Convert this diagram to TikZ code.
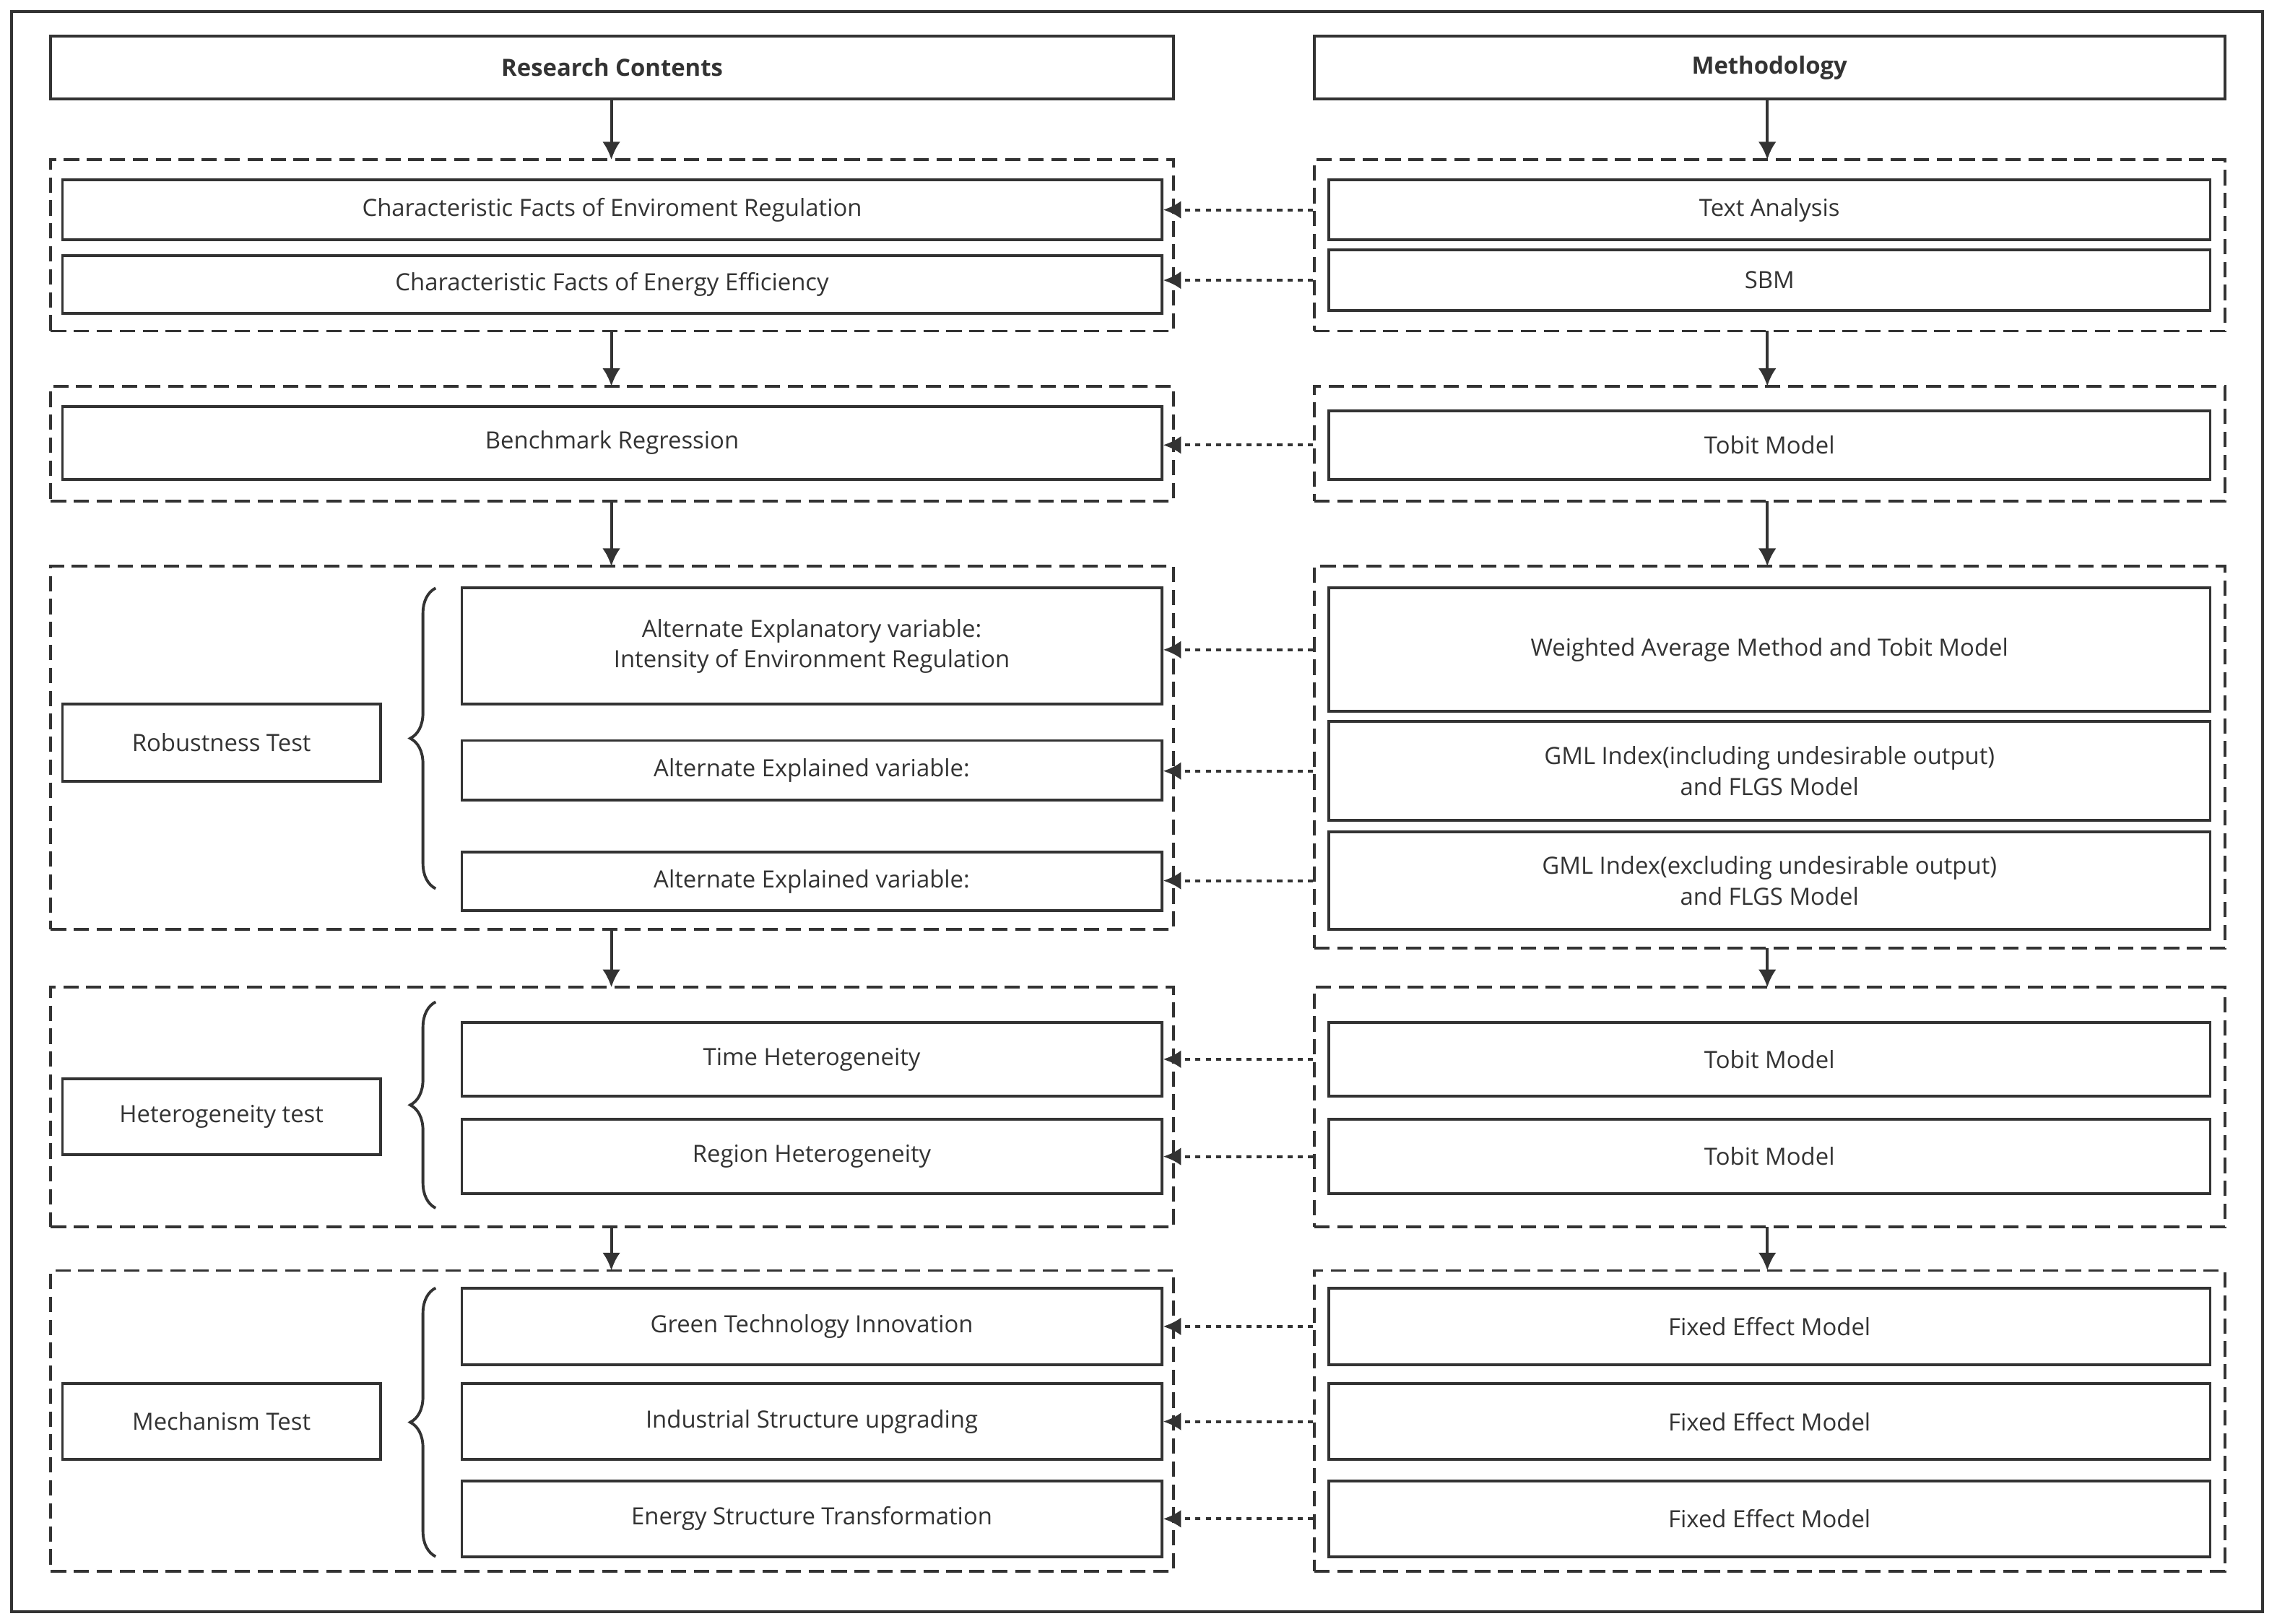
\documentclass[tikz,border=0pt]{standalone}
\usepackage{fontspec}
\setmainfont{Open Sans}
\usetikzlibrary{arrows.meta,decorations.pathreplacing}
\definecolor{ink}{HTML}{333333}
\tikzset{
 x=0.02cm,y=-0.02cm,
 box/.style={draw=ink,line width=1.1pt,fill=white,inner sep=2pt,align=center,font=\fontsize{9.3}{12}\selectfont,text=ink},
 grp/.style={draw=ink,line width=1.1pt,dash pattern=on 6pt off 3pt},
 flow/.style={draw=ink,line width=1.1pt,-{Latex[length=7pt,width=7pt]}},
 dot/.style={draw=ink,line width=1.1pt,dash pattern=on 2pt off 2pt,-{Latex[length=7pt,width=7pt]}},
 brc/.style={draw=ink,line width=1.1pt,decorate,decoration={brace,amplitude=0.35cm}}
}
\newcommand\bx[6][]{\node[box,#1,minimum width={(#4-#2)*0.02cm},minimum height={(#5-#3)*0.02cm}] (#6) at ({(#2+#4)/2},{(#3+#5)/2})}
\newcommand\gp[5]{\node[grp,inner sep=0,minimum width={(#4-#2)*0.02cm},minimum height={(#5-#3)*0.02cm}] (#1) at ({(#2+#4)/2},{(#3+#5)/2}) {};}
\begin{document}
\begin{tikzpicture}
\useasboundingbox (0,0) rectangle (1568,1118);
\draw[ink,line width=1.1pt] (8,8) rectangle (1558,1110);
\bx{35}{25}{808}{68}{hl}{\textbf{Research Contents}};
\bx{905}{25}{1532}{68}{hr}{\textbf{Methodology}};
% groups
\gp{gl1}{35}{110}{808}{228}\gp{gr1}{905}{110}{1532}{228}
\gp{gl2}{35}{266}{808}{345}\gp{gr2}{905}{266}{1532}{345}
\gp{gl3}{35}{390}{808}{640}\gp{gr3}{905}{390}{1532}{653}
\gp{gl4}{35}{680}{808}{845}\gp{gr4}{905}{680}{1532}{845}
\gp{gl5}{35}{875}{808}{1082}\gp{gr5}{905}{875}{1532}{1082}
% boxes
\bx{43}{124}{800}{165}{l1}{Characteristic Facts of Enviroment Regulation};
\bx{43}{176}{800}{216}{l2}{Characteristic Facts of Energy Efficiency};
\bx{915}{124}{1522}{165}{r1}{Text Analysis};
\bx{915}{172}{1522}{214}{r2}{SBM};
\bx{43}{280}{800}{330}{l3}{Benchmark Regression};
\bx{915}{283}{1522}{330}{r3}{Tobit Model};
\bx{43}{485}{262}{538}{rt}{Robustness Test};
\bx{318}{405}{800}{485}{l4}{Alternate Explanatory variable:\\Intensity of Environment Regulation};
\bx{318}{510}{800}{551}{l5}{Alternate Explained variable:};
\bx{318}{587}{800}{627}{l6}{Alternate Explained variable:};
\bx{915}{405}{1522}{490}{r4}{Weighted Average Method and Tobit Model};
\bx{915}{497}{1522}{565}{r5}{GML Index(including undesirable output)\\and FLGS Model};
\bx{915}{573}{1522}{640}{r6}{GML Index(excluding undesirable output)\\and FLGS Model};
\bx{43}{743}{262}{795}{ht}{Heterogeneity test};
\bx{318}{704}{800}{755}{l7}{Time Heterogeneity};
\bx{318}{771}{800}{822}{l8}{Region Heterogeneity};
\bx{915}{704}{1522}{755}{r7}{Tobit Model};
\bx{915}{771}{1522}{822}{r8}{Tobit Model};
\bx{43}{953}{262}{1005}{mt}{Mechanism Test};
\bx{318}{887}{800}{940}{l9}{Green Technology Innovation};
\bx{318}{953}{800}{1005}{l10}{Industrial Structure upgrading};
\bx{318}{1020}{800}{1072}{l11}{Energy Structure Transformation};
\bx{915}{887}{1522}{940}{r9}{Fixed Effect Model};
\bx{915}{953}{1522}{1005}{r10}{Fixed Effect Model};
\bx{915}{1020}{1522}{1072}{r11}{Fixed Effect Model};
% braces
\draw[brc] (300,612) -- (300,405);
\draw[brc] (300,832) -- (300,690);
\draw[brc] (300,1072) -- (300,887);
% flow arrows
\draw[flow] (421,68) -- (421,110);
\draw[flow] (1217,68) -- (1217,110);
\draw[flow] (421,228) -- (421,266);
\draw[flow] (1217,228) -- (1217,266);
\draw[flow] (421,345) -- (421,390);
\draw[flow] (1217,345) -- (1217,390);
\draw[flow] (421,640) -- (421,680);
\draw[flow] (1217,653) -- (1217,680);
\draw[flow] (421,845) -- (421,875);
\draw[flow] (1217,845) -- (1217,875);
% dotted arrows
\foreach \a/\b in {r1/l1,r2/l2,r3/l3,r4/l4,r5/l5,r6/l6,r7/l7,r8/l8,r9/l9,r10/l10,r11/l11}
 \draw[dot] ([xshift=-0.2cm]\a.west) -- (\a.west -| \b.east);
\end{tikzpicture}
\end{document}
